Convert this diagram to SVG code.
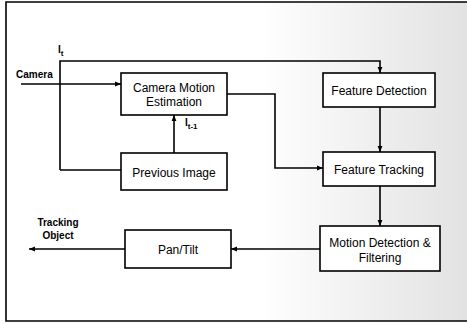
<svg xmlns="http://www.w3.org/2000/svg" width="467" height="324" viewBox="0 0 467 324">
<style>
.box{fill:#fff;stroke:#000;stroke-width:1.6}
.ln{fill:none;stroke:#000;stroke-width:1.6}
.t{font-family:"Liberation Sans",Arial,sans-serif;font-size:12px;fill:#000;text-anchor:middle}
.s{font-family:"Liberation Sans",Arial,sans-serif;font-size:10px;font-weight:bold;fill:#000}
</style>
<defs>
<marker id="ah" viewBox="0 0 10 10" refX="10" refY="5" markerWidth="6" markerHeight="6" orient="auto" markerUnits="userSpaceOnUse">
<path d="M0,1 L10,5 L0,9 z" fill="#000"/>
</marker>
<linearGradient id="bg" x1="0" y1="0" x2="1" y2="0">
<stop offset="0" stop-color="#fff"/>
<stop offset="0.55" stop-color="#fff"/>
<stop offset="1" stop-color="#e2e2e2"/>
</linearGradient>
</defs>
<rect x="0" y="0" width="467" height="324" fill="#fff"/>
<rect x="6" y="2" width="461" height="319" fill="url(#bg)"/>
<path class="ln" d="M467,2 H6 V321 H467"/>
<g id="connectors">
<path class="ln" d="M60,170 V61 H380 V73" marker-end="url(#ah)"/>
<path class="ln" d="M21,84 H121" marker-end="url(#ah)"/>
<path class="ln" d="M60,170 H121"/>
<path class="ln" d="M174,153 V115" marker-end="url(#ah)"/>
<path class="ln" d="M227,94 H275 V168 H323" marker-end="url(#ah)"/>
<path class="ln" d="M380,107 V152" marker-end="url(#ah)"/>
<path class="ln" d="M380,186 V226" marker-end="url(#ah)"/>
<path class="ln" d="M320,249 H231" marker-end="url(#ah)"/>
<path class="ln" d="M125,249 H29" marker-end="url(#ah)"/>
<text class="s" x="58" y="53" font-size="11">I<tspan font-size="8" dy="3">t</tspan></text>
<text class="s" x="185" y="126" font-size="11">I<tspan font-size="8" dy="3">t-1</tspan></text>
<text class="s" x="16" y="78">Camera</text>
<text class="s" x="58" y="226" text-anchor="middle">Tracking</text>
<text class="s" x="58" y="239" text-anchor="middle">Object</text>
</g>
<g id="cme"><rect class="box" x="121" y="73" width="106" height="42"/><text class="t" x="174" y="92">Camera Motion</text><text class="t" x="174" y="106">Estimation</text></g>
<g id="prev"><rect class="box" x="121" y="153" width="106" height="37"/><text class="t" x="174" y="177">Previous Image</text></g>
<g id="fd"><rect class="box" x="323" y="73" width="112" height="34"/><text class="t" x="379" y="95">Feature Detection</text></g>
<g id="ft"><rect class="box" x="323" y="152" width="112" height="34"/><text class="t" x="379" y="174">Feature Tracking</text></g>
<g id="mdf"><rect class="box" x="320" y="226" width="120" height="45"/><text class="t" x="380" y="247">Motion Detection &amp;</text><text class="t" x="380" y="262">Filtering</text></g>
<g id="pt"><rect class="box" x="125" y="230" width="106" height="38"/><text class="t" x="178" y="254">Pan/Tilt</text></g>
</svg>
